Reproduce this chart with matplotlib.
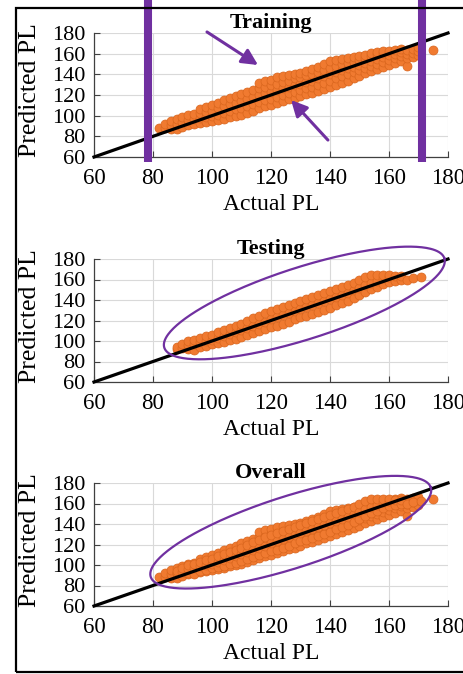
import matplotlib
matplotlib.use('Agg')
import matplotlib.pyplot as plt
import numpy as np
from matplotlib.patches import Rectangle

plt.rcParams['font.family'] = ['Liberation Serif', 'DejaVu Serif']

# ---------------- data ----------------
ticks = [60, 80, 100, 120, 140, 160, 180]
titles = ['Training', 'Testing', 'Overall']
x_label = 'Actual PL'
y_label = 'Predicted PL'

# Training set: actual PL columns and the predicted PL values seen in each column
train_cols_x = [82, 84, 86, 88, 90, 92, 94, 96, 98, 100, 102, 104, 106, 108, 110,
                112, 114, 116, 118, 120, 122, 124, 126, 128, 130, 132, 134, 136,
                138, 140, 142, 144, 146, 148, 150, 152, 154, 156, 158, 160, 162,
                164, 166, 168, 170, 175]
train_cols_y = [[88], [88, 92], [87, 91, 95], [87, 92, 97], [89, 94, 99],
                [91, 96, 101], [92, 97, 102], [93, 98, 103, 106], [94, 99, 104, 108],
                [95, 100, 105, 110], [96, 101, 107, 112], [97, 103, 109, 115],
                [99, 105, 111, 117], [100, 106, 112, 119], [101, 107, 114, 121],
                [103, 109, 116, 123], [105, 111, 118, 125],
                [107, 113, 120, 127, 132], [109, 115, 122, 128, 134],
                [110, 116, 123, 130, 135], [112, 118, 125, 131, 137],
                [114, 120, 127, 133, 138], [116, 122, 128, 134, 139],
                [117, 123, 130, 136, 140], [119, 125, 131, 137, 141],
                [121, 127, 133, 139, 143], [122, 128, 134, 140, 145],
                [124, 130, 136, 142, 147], [126, 132, 138, 144, 150],
                [128, 134, 140, 146, 153], [130, 136, 142, 148, 154],
                [132, 138, 144, 150, 155], [134, 140, 146, 151, 156],
                [136, 142, 147, 152, 157], [138, 144, 149, 154, 158],
                [141, 146, 151, 156, 159], [143, 148, 153, 158, 161],
                [145, 150, 155, 160, 162], [147, 152, 157, 161, 163],
                [149, 154, 159, 163], [151, 156, 160, 164], [153, 158, 162, 165],
                [148, 156, 160, 164], [157, 161, 165], [159, 163, 166], [164]]

# Testing set
test_cols_x = [88, 90, 92, 94, 96, 98, 100, 102, 104, 106, 108, 110, 112, 114,
               116, 118, 120, 122, 124, 126, 128, 130, 132, 134, 136, 138, 140,
               142, 144, 146, 148, 150, 152, 154, 156, 158, 160, 162, 164, 166,
               168, 171]
test_cols_y = [[92, 94], [93, 97], [92, 96, 100], [91, 97, 101], [94, 99, 103],
               [95, 100, 105], [97, 101, 106], [98, 103, 109], [99, 105, 111],
               [101, 107, 113], [102, 109, 115], [104, 111, 117], [106, 113, 120],
               [108, 115, 122], [110, 117, 124], [112, 119, 127], [114, 121, 129],
               [115, 123, 131], [117, 125, 133], [119, 127, 135], [121, 129, 137],
               [123, 131, 139], [124, 133, 141], [126, 135, 143], [128, 137, 145],
               [130, 139, 147], [132, 141, 149], [135, 143, 151], [137, 145, 153],
               [139, 147, 155], [142, 150, 157], [145, 152, 160], [148, 155, 162],
               [151, 157, 164], [153, 159, 164], [156, 161, 164], [158, 162, 164],
               [159, 163], [160, 163], [160], [161], [162]]

# reference cut-offs (training) drawn as vertical bars
cut_low, cut_high = 78.3, 171.2


def flatten(cols_x, cols_y):
    xs = np.repeat(cols_x, [len(c) for c in cols_y]).astype(float)
    ys = np.array([v for c in cols_y for v in c], dtype=float)
    return xs, ys


train_x, train_y = flatten(train_cols_x, train_cols_y)
test_x, test_y = flatten(test_cols_x, test_cols_y)
all_x = np.concatenate([train_x, test_x])
all_y = np.concatenate([train_y, test_y])
sets = [(train_x, train_y), (test_x, test_y), (all_x, all_y)]

# ---------------- styling ----------------
W, H = 464, 674
purple = '#7030A0'
orange = '#F07A30'
orange_edge = '#D9661E'
grid_c = '#D9D9D9'

fig = plt.figure(figsize=(W / 100, H / 100), dpi=100)

axes_px = [(33, 157), (259, 382), (483, 606)]  # top, bottom in pixels
left_px, right_px = 94, 448

axes = []
for (top, bot), title, (xs, ys) in zip(axes_px, titles, sets):
    ax = fig.add_axes([left_px / W, 1 - bot / H, (right_px - left_px) / W, (bot - top) / H])
    ax.set_xlim(60, 180)
    ax.set_ylim(60, 180)
    ax.set_xticks(ticks)
    ax.set_yticks(ticks)
    ax.grid(True, color=grid_c, lw=0.8)
    ax.set_axisbelow(True)
    for s in ['top', 'right']:
        ax.spines[s].set_visible(False)
    for s in ['left', 'bottom']:
        ax.spines[s].set_color('#404040')
        ax.spines[s].set_linewidth(0.9)
    ax.tick_params(direction='in', length=4, width=0.8, color='#404040')
    ax.tick_params(axis='x', labelsize=16.5, pad=8)
    ax.tick_params(axis='y', labelsize=16, pad=6)
    ax.scatter(xs, ys, s=42, c=orange, edgecolors=orange_edge, linewidths=0.5, zorder=2)
    ax.plot([60, 180], [60, 180], color='black', lw=2.3, zorder=3, clip_on=False)
    ax.set_title(title, fontsize=16, fontweight='bold', pad=0)
    ax.set_xlabel(x_label, fontsize=17)
    ax.set_ylabel(y_label, fontsize=18.5)
    ax.xaxis.set_label_coords(0.5, -0.30)
    ax.yaxis.set_label_coords(-0.15, 0.54)
    axes.append(ax)

ax1, ax2, ax3 = axes

# vertical cut-off bars on training plot
for xc in (cut_low, cut_high):
    ax1.plot([xc, xc], [55.2, 212], color=purple, lw=5.8, solid_capstyle='butt',
             clip_on=False, zorder=4)

# arrows pointing at the band
arrow_kw = dict(arrowstyle='-|>', color=purple, lw=2.2, mutation_scale=24,
                shrinkA=0, shrinkB=0)
ax1.annotate('', xy=(115.6, 149), xytext=(98.3, 181), arrowprops=arrow_kw,
             annotation_clip=False, zorder=5)
ax1.annotate('', xy=(126.8, 115.1), xytext=(139.3, 76.4), arrowprops=arrow_kw,
             annotation_clip=False, zorder=5)


def draw_ellipse(ax, cx, cy, a_px, b_px, ang_deg):
    fig.canvas.draw()
    c = ax.transData.transform((cx, cy))
    t = np.linspace(0, 2 * np.pi, 300)
    th = np.deg2rad(ang_deg)
    px = c[0] + a_px * np.cos(th) * np.cos(t) - b_px * np.sin(th) * np.sin(t)
    py = c[1] + a_px * np.sin(th) * np.cos(t) + b_px * np.cos(th) * np.sin(t)
    d = ax.transData.inverted().transform(np.column_stack([px, py]))
    ax.plot(d[:, 0], d[:, 1], color=purple, lw=1.6, clip_on=False, zorder=4)


draw_ellipse(ax2, 131.3, 137.1, 147, 36, 17.7)
draw_ellipse(ax3, 126.7, 132.0, 147, 36, 17.7)

# outer frame
fig.add_artist(Rectangle((16 / W, 1 - 672 / H), 470 / W, (672 - 8) / H,
                         transform=fig.transFigure, fill=False, ec='black', lw=1.6))

fig.savefig('out.png', dpi=100)
